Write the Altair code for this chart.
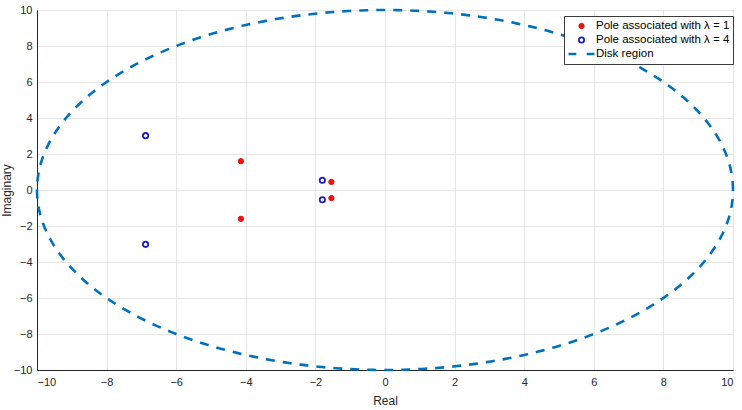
import altair as alt
import pandas as pd

# Closed-loop poles for each weighting value (real / imaginary parts)
lambda1_real = [-4.14, -4.14, -1.54, -1.54]
lambda1_imag = [1.60, -1.60, 0.45, -0.45]
lambda4_real = [-6.88, -6.88, -1.80, -1.80]
lambda4_imag = [3.02, -3.02, 0.54, -0.54]

# Disk region used for the pole-placement constraint
disk_center = (0.0, 0.0)
disk_radius = 10.0

series_names = [
    "Pole associated with λ = 1",
    "Pole associated with λ = 4",
    "Disk region",
]
axis_ticks = list(range(-10, 11, 2))

poles = pd.DataFrame(
    {
        "re": lambda1_real + lambda4_real,
        "im": lambda1_imag + lambda4_imag,
        "series": [series_names[0]] * len(lambda1_real)
        + [series_names[1]] * len(lambda4_real),
    }
)

FONT = "Liberation Sans"
AX_COLOR = "#262626"
DISK_BLUE = "#0072BD"

x_scale = alt.Scale(domain=[-10, 10], nice=False, zero=False)
y_scale = alt.Scale(domain=[-10, 10], nice=False, zero=False)


def make_axis(title, label_pad, title_pad):
    return alt.Axis(
        title=title,
        values=axis_ticks,
        grid=True,
        gridColor="#E6E6E6",
        gridWidth=1,
        ticks=False,
        domainColor=AX_COLOR,
        labelColor=AX_COLOR,
        labelFont=FONT,
        labelFontSize=11,
        labelPadding=label_pad,
        titleFont=FONT,
        titleFontSize=12,
        titleFontWeight="normal",
        titleColor=AX_COLOR,
        titlePadding=title_pad,
    )


x_axis = make_axis("Real", 6, 8)
y_axis = make_axis("Imaginary", 5, 0)

# Dashed boundary of the disk, traced by the library from center and radius
disk = (
    alt.Chart(alt.sequence(0, 361, 1, as_="deg"))
    .transform_calculate(
        re=f"{disk_center[0]} + {disk_radius} * cos(datum.deg * PI / 180)",
        im=f"{disk_center[1]} + {disk_radius} * sin(datum.deg * PI / 180)",
    )
    .mark_line(color=DISK_BLUE, strokeWidth=2.6, strokeDash=[9, 8], strokeCap="butt")
    .encode(
        x=alt.X("re:Q", scale=x_scale, axis=x_axis),
        y=alt.Y("im:Q", scale=y_scale, axis=y_axis),
        order=alt.Order("deg:Q"),
    )
)

# Pole markers; the shared ordinal scales also build the combined legend
legend_path = "M-1,0H-0.4M0.4,0H1"
pts = (
    alt.Chart(poles)
    .mark_point(opacity=1)
    .encode(
        x=alt.X("re:Q", scale=x_scale, axis=x_axis),
        y=alt.Y("im:Q", scale=y_scale, axis=y_axis),
        fill=alt.Fill(
            "series:O",
            title=None,
            scale=alt.Scale(domain=series_names, range=["#EE1111", "transparent", "transparent"]),
        ),
        stroke=alt.Stroke(
            "series:O",
            title=None,
            scale=alt.Scale(domain=series_names, range=["#EE1111", "#1A1AC8", DISK_BLUE]),
        ),
        shape=alt.Shape(
            "series:O",
            title=None,
            scale=alt.Scale(domain=series_names, range=["circle", "circle", legend_path]),
        ),
        size=alt.Size(
            "series:O",
            title=None,
            scale=alt.Scale(type="ordinal", domain=series_names, range=[28, 28, 676]),
        ),
        strokeWidth=alt.StrokeWidth(
            "series:O",
            title=None,
            scale=alt.Scale(type="ordinal", domain=series_names, range=[1, 1.8, 2.6]),
        ),
    )
)

chart = (
    alt.layer(disk, pts)
    .properties(
        width=696,
        height=360,
        autosize=alt.AutoSizeParams(type="none"),
        padding={"left": 37, "top": 10, "right": 9, "bottom": 40},
        background="white",
    )
    .configure_view(stroke=AX_COLOR, strokeWidth=1)
    .configure_legend(
        orient="none",
        legendX=527,
        legendY=6,
        padding=3,
        strokeColor="#3A3A3A",
        fillColor="white",
        labelFont=FONT,
        labelFontSize=11.5,
        labelColor="black",
        labelOffset=0,
        labelLimit=300,
        symbolOffset=0,
        rowPadding=0,
        clipHeight=14,
        cornerRadius=0,
    )
)

chart.save("out.html", embed_options={"renderer": "svg", "actions": False})
